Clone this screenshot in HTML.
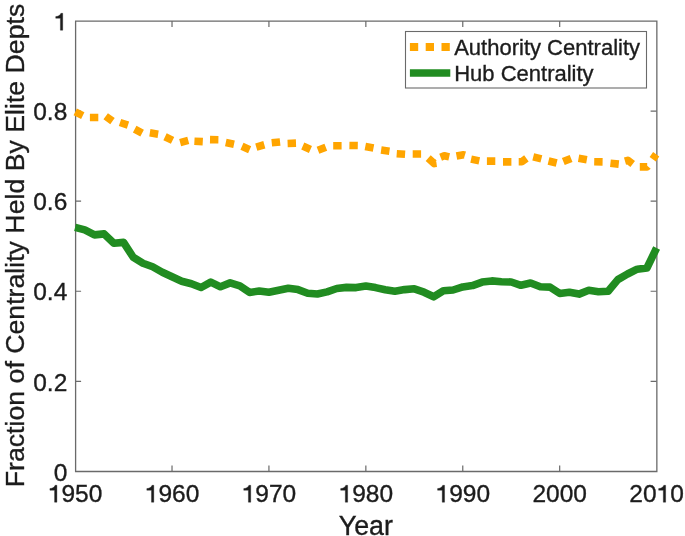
<!DOCTYPE html>
<html><head><meta charset="utf-8"><style>
html,body{margin:0;padding:0;background:#fff;}
svg{display:block;}
text{font-family:"Liberation Sans",sans-serif;fill:#1c1c1c;stroke:#1c1c1c;stroke-width:0.35px;}
.h{fill-opacity:0;stroke-opacity:0;}
</style></head><body>
<div style="will-change:transform;width:685px;height:536px"><svg width="685" height="536" viewBox="0 0 685 536">
<rect width="685" height="536" fill="#fff"/>
<path d="M75.6,21.1H656.85V471.5H75.6Z" stroke="#6a6a6a" stroke-width="1.3" fill="none"/>
<path d="M172.02,471.4v-6M172.02,21.0v6M268.93,471.4v-6M268.93,21.0v6M365.85,471.4v-6M365.85,21.0v6M462.77,471.4v-6M462.77,21.0v6M559.68,471.4v-6M559.68,21.0v6M75.1,381.32h6M656.6,381.32h-6M75.1,291.24h6M656.6,291.24h-6M75.1,201.16h6M656.6,201.16h-6M75.1,111.08h6M656.6,111.08h-6" stroke="#6a6a6a" stroke-width="1.2" fill="none"/>
<polyline points="75.10,227.30 84.79,229.90 94.48,234.90 104.17,233.90 113.87,243.20 123.56,242.40 133.25,257.30 142.94,263.30 152.63,266.80 162.32,272.20 172.02,276.80 181.71,281.20 191.40,283.70 201.09,287.50 210.78,282.10 220.47,286.80 230.17,282.90 239.86,285.80 249.55,292.40 259.24,291.00 268.93,292.30 278.62,290.20 288.32,288.20 298.01,289.60 307.70,293.20 317.39,294.00 327.08,291.90 336.77,288.50 346.47,287.40 356.16,287.60 365.85,286.00 375.54,287.60 385.23,289.70 394.92,291.20 404.62,289.60 414.31,288.80 424.00,292.20 433.69,296.80 443.38,290.80 453.08,290.00 462.77,286.90 472.46,285.60 482.15,282.10 491.84,280.90 501.53,281.70 511.23,282.00 520.92,285.30 530.61,283.00 540.30,286.70 549.99,287.10 559.68,293.40 569.38,292.20 579.07,294.10 588.76,290.30 598.45,291.70 608.14,291.20 617.83,279.60 627.52,274.00 637.22,269.20 646.91,268.00 656.60,248.00" fill="none" stroke="#218C21" stroke-width="7.6" stroke-linejoin="round" stroke-linecap="butt"/>
<path d="M75.23,111.96L82.77,115.64M89.90,117.50L98.30,117.50M105.70,116.23L112.50,121.17M120.01,122.50L127.99,125.10M134.69,129.23L142.11,133.17M149.85,132.84L158.15,134.16M165.03,136.76L172.57,140.44M180.14,142.59L188.26,140.41M194.41,141.18L202.79,141.62M210.00,139.63L218.40,139.77M225.79,142.43L234.01,144.17M241.96,146.29L249.64,149.71M256.26,147.06L264.34,144.74M271.72,142.84L280.08,141.96M287.60,143.45L296.00,143.15M302.76,145.99L310.44,149.41M317.98,150.31L325.82,147.29M333.20,145.80L341.60,145.80M349.40,145.43L357.80,145.57M365.28,146.50L373.52,148.10M381.14,150.02L389.46,151.18M396.71,153.71L405.09,154.29M412.70,154.00L421.10,154.00M471.09,159.13L479.31,160.87M486.90,161.10L495.30,161.10M503.00,161.90L511.40,161.90M533.22,156.88L541.38,158.92M548.52,160.98L556.68,163.02M563.31,161.57L571.09,158.43M578.56,158.27L586.84,159.73M594.20,161.73L602.60,161.87M610.42,163.26L618.78,164.14M428.20,158.20L434.30,163.60L436.50,163.30M440.60,157.20L444.20,155.80L449.20,156.90M456.50,156.10L463.60,154.80L464.90,155.20M518.70,161.80L521.80,161.80L526.40,158.40M625.00,161.10L627.80,160.30L632.70,164.00M639.80,166.90L647.20,166.90L647.80,166.20M652.70,159.20L656.20,154.30" fill="none" stroke="#FFA500" stroke-width="7.6" stroke-linecap="butt" stroke-linejoin="round"/>
<g font-size="24.5"><text x="75.10" y="502.20" text-anchor="middle"><tspan class="h">1</tspan>950</text><text x="172.02" y="502.20" text-anchor="middle"><tspan class="h">1</tspan>960</text><text x="268.93" y="502.20" text-anchor="middle"><tspan class="h">1</tspan>970</text><text x="365.85" y="502.20" text-anchor="middle"><tspan class="h">1</tspan>980</text><text x="462.77" y="502.20" text-anchor="middle"><tspan class="h">1</tspan>990</text><text x="559.68" y="502.20" text-anchor="middle">2000</text><text x="656.60" y="502.20" text-anchor="middle">20<tspan class="h">1</tspan>0</text><text x="67.30" y="480.60" text-anchor="end">0</text><text x="67.30" y="390.52" text-anchor="end">0.2</text><text x="67.30" y="300.44" text-anchor="end">0.4</text><text x="67.30" y="210.36" text-anchor="end">0.6</text><text x="67.30" y="120.28" text-anchor="end">0.8</text><text x="67.30" y="30.20" text-anchor="end"><tspan class="h">1</tspan></text></g>
<path d="M54.57,502.20L56.90,502.20L56.90,485.30L55.08,485.30C54.59,487.25 52.51,488.36 49.91,488.58L49.91,490.24L54.57,490.24ZM151.49,502.20L153.81,502.20L153.81,485.30L152.00,485.30C151.51,487.25 149.43,488.36 146.83,488.58L146.83,490.24L151.49,490.24ZM248.40,502.20L250.73,502.20L250.73,485.30L248.92,485.30C248.43,487.25 246.34,488.36 243.75,488.58L243.75,490.24L248.40,490.24ZM345.32,502.20L347.65,502.20L347.65,485.30L345.83,485.30C345.34,487.25 343.26,488.36 340.66,488.58L340.66,490.24L345.32,490.24ZM442.24,502.20L444.56,502.20L444.56,485.30L442.75,485.30C442.26,487.25 440.18,488.36 437.58,488.58L437.58,490.24L442.24,490.24ZM663.31,502.20L665.64,502.20L665.64,485.30L663.83,485.30C663.34,487.25 661.25,488.36 658.66,488.58L658.66,490.24L663.31,490.24ZM60.39,30.20L62.72,30.20L62.72,13.30L60.91,13.30C60.42,15.25 58.33,16.36 55.74,16.58L55.74,18.24L60.39,18.24Z" fill="#1c1c1c" stroke="#1c1c1c" stroke-width="0.35"/>
<text x="365.8" y="534.8" text-anchor="middle" font-size="26.8">Year</text>
<text transform="translate(23.8,245.5) rotate(-90)" text-anchor="middle" font-size="26.7">Fraction of Centrality Held By Elite Depts</text>
<rect x="405.5" y="31.5" width="241" height="56.5" fill="#fff" stroke="#6a6a6a" stroke-width="1.1"/>
<path d="M409.9,47H450.3" stroke="#FFA500" stroke-width="8" stroke-dasharray="8.3 7.5" fill="none"/>
<path d="M409.9,73H450.3" stroke="#218C21" stroke-width="7.5" fill="none"/>
<g font-size="22"><text x="454.2" y="54.6">Authority Centrality</text><text x="454.2" y="80.6">Hub Centrality</text></g>
</svg></div>
</body></html>
